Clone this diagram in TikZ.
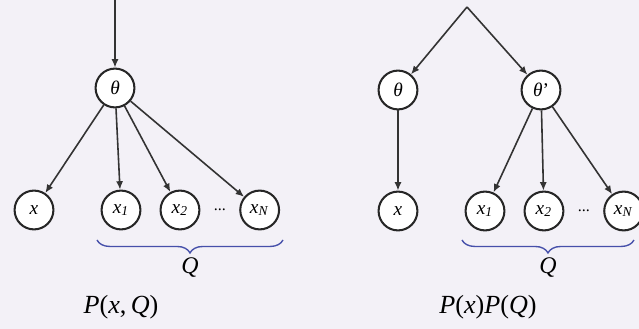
\documentclass[tikz,border=0pt]{standalone}
\usepackage{fontspec}
\setmainfont{Liberation Serif}
\usepackage{xcolor}
\usepackage{tikz}
\usetikzlibrary{positioning,arrows.meta,decorations.pathreplacing}
\definecolor{paper}{RGB}{243,241,247}
\definecolor{bracecol}{RGB}{70,80,170}
\newcommand{\vi}[1]{\textit{#1}}
\newcommand{\vsub}[2]{\textit{#1}\textsubscript{\textit{#2}}}

\begin{document}
\begin{tikzpicture}[
    x=0.01546cm,y=-0.01546cm,
    var/.style={
      draw=black!85,circle,fill=white,
      line width=0.9pt,inner sep=0pt,
      font=\fontsize{8.5}{10}\selectfont,minimum size=0.6cm},
    arr/.style={-{Latex[length=1.3mm,width=1.1mm]},line width=0.7pt,black!80},
    brc/.style={decorate,decoration={brace,mirror,amplitude=0.2cm},
      bracecol,line width=0.6pt},
    lbl/.style={font=\fontsize{11.5}{13}\selectfont},
    >=Latex
]
\fill[paper] (0,0) rectangle (639,329);
\useasboundingbox (0,0) rectangle (639,329);

% joint model P(x,Q)
\coordinate (top) at (115,0);
\node[var]                     (th)  at (115,88) {\vi{θ}};
\node[var]                     (x)   at (34,210) {\vi{x}};
\node[var]                     (x1)  at (121,210) {\vsub{x}{1}};
\node[var,right=0.28cm of x1]  (x2)  {\vsub{x}{2}};
\node[var,right=0.6cm of x2]   (xN)  {\vsub{x}{N}};
\path (x2) -- node[font=\scriptsize] (dots) {...} (xN);

\draw[arr] (top) -- (th);
\foreach \v in {x,x1,x2,xN}
  \draw[arr] (th) -- (\v);

\coordinate (bl) at (97,240);
\coordinate (br) at (283,240);
\draw[brc] (bl) -- (br);
\node[font=\fontsize{10.5}{12}\selectfont] (q) at (190,268) {\vi{Q}};
\node[lbl]                     (pj)  at (121,307) {\vi{P}(\vi{x},\,\vi{Q})};

% independent model P(x)P(Q)
\coordinate (apex) at (467,7);
\node[var]                     (tb)  at (398,90) {\vi{θ}};
\node[var]                     (tp)  at (541,90) {\vi{θ}’};
\node[var]                     (xb)  at (398,211) {\vi{x}};
\node[var]                     (xb1) at (485,211) {\vsub{x}{1}};
\node[var,right=0.28cm of xb1] (xb2) {\vsub{x}{2}};
\node[var,right=0.6cm of xb2]  (xbN) {\vsub{x}{N}};
\path (xb2) -- node[font=\scriptsize] (dotsb) {...} (xbN);

\draw[arr] (apex) -- (tb);
\draw[arr] (apex) -- (tp);
\draw[arr] (tb) -- (xb);
\foreach \v in {xb1,xb2,xbN}
  \draw[arr] (tp) -- (\v);

\coordinate (bbl) at (462,240);
\coordinate (bbr) at (634,240);
\draw[brc] (bbl) -- (bbr);
\node[font=\fontsize{10.5}{12}\selectfont] (qb) at (548,268) {\vi{Q}};
\node[lbl]                     (pi)  at (488,307) {\vi{P}(\vi{x})\vi{P}(\vi{Q})};
\end{tikzpicture}
\end{document}
